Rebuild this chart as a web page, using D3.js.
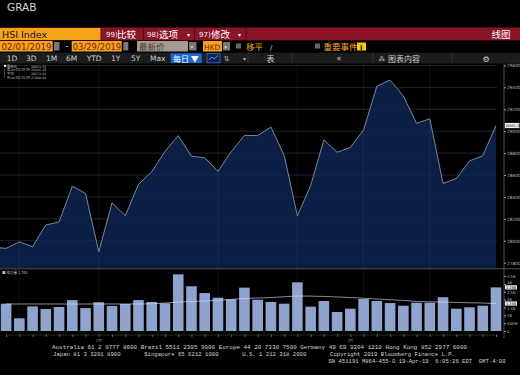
<!DOCTYPE html>
<html>
<head>
<meta charset="utf-8">
<script src="https://cdn.jsdelivr.net/npm/d3@7"></script>
<style>
body { margin: 0; background: #000; overflow: hidden; }
svg { display: block; }
text { font-family: "DejaVu Sans", "Liberation Sans", sans-serif; }
.cjk { font-family: "Noto Sans CJK SC", sans-serif; }
.mono { font-family: "Liberation Mono", "DejaVu Sans Mono", monospace; }
</style>
</head>
<body>
<script>
window.onload = function() {
  drawPage();
}

// HSI daily closes, 02/01/2019 - 03/29/2019
var dates = ["02/01","02/04","02/08","02/11","02/12","02/13","02/14","02/15",
  "02/18","02/19","02/20","02/21","02/22","02/25","02/26","02/27","02/28",
  "03/01","03/04","03/05","03/06","03/07","03/08","03/11","03/12","03/13",
  "03/14","03/15","03/18","03/19","03/20","03/21","03/22","03/25","03/26",
  "03/27","03/28","03/29"];
var closes = [27930.74,27990.21,27946.32,28143.84,28171.33,28497.59,28432.05,27900.84,
  28347.01,28228.13,28514.05,28629.92,28816.30,28959.30,28772.06,28757.43,28633.18,
  28812.17,28961.60,28959.59,29037.55,28779.45,28228.42,28503.30,28920.87,28807.45,
  28851.39,29012.26,29409.01,29466.28,29320.97,29071.56,29113.36,28523.35,28566.91,
  28728.25,28775.21,29051.36];
var priorClose = 27942.47;

// volume in billions of shares, and its moving average
var volumes = [1.74,0.81,1.57,1.40,1.53,1.97,1.46,1.83,1.59,1.72,1.97,1.85,1.76,3.61,
  2.85,2.42,2.12,2.02,2.76,1.99,1.85,1.74,3.10,1.55,1.91,1.21,1.42,2.04,1.91,1.78,
  1.61,1.80,1.80,2.15,1.42,1.51,1.61,2.78];
var volumeAvg = [1.72,1.72,1.72,1.72,1.72,1.72,1.72,1.72,1.72,1.72,1.72,1.73,1.78,1.85,
  1.88,1.91,1.96,2.01,2.07,2.10,2.13,2.18,2.23,2.22,2.20,2.17,2.13,2.09,2.04,1.99,
  1.95,1.88,1.86,1.84,1.82,1.80,1.78,1.75];

var priceTicks = [27800,28000,28200,28400,28600,28800,29000,29200,29400,29600];
var volumeTicks = [0,0.5,1,1.5,2,2.5,3,3.5];
var volumeTickLabels = ["0","500M","1B","1.5B","2B","2.5B","3B","3.5B"];
var gridDays = ["02/04","02/15","02/28","03/08","03/15","03/22"];
var monthLabels = [["02/15","2月"],["03/14","3月"]];

var rangeButtons = ["1D","3D","1M","6M","YTD","1Y","5Y","Max"];

var footerLines = [
  "Australia 61 2 9777 8600 Brazil 5511 2395 9000 Europe 44 20 7330 7500 Germany 49 69 9204 1210 Hong Kong 852 2977 6000",
  "Japan 81 3 3201 8900       Singapore 65 6212 1000       U.S. 1 212 318 2000       Copyright 2019 Bloomberg Finance L.P.",
  "SN 451191 M864-455-0 19-Apr-19  6:05:26 EDT  GMT-4:00"
];

var width = 520,
  height = 375;

var plotRight = 497,
  priceTop = 64,
  priceBottom = 268,
  volBottom = 331;

var x = d3.scaleLinear()
          .domain([0, dates.length - 1])
          .range([6.1, 496]);

var y = d3.scaleLinear()
          .domain([27800, 29600])
          .range([262.7, 65.4]);

var yv = d3.scaleLinear()
          .domain([0, 4])
          .range([volBottom, 268.2]);

function dayX(day) {
  return x(dates.indexOf(day));
}

function drawToolbar(svg) {
  svg.append("text")
     .attr("x", 7).attr("y", 11)
     .attr("font-family", "Liberation Sans, sans-serif")
     .attr("font-size", 10.5)
     .attr("fill", "#d8d8d8")
     .text("GRAB");

  // row 1: red command bar
  svg.append("rect").attr("x", 0).attr("y", 27.5).attr("width", width).attr("height", 12.8)
     .attr("fill", "#8b1426");
  svg.append("rect").attr("x", 0).attr("y", 28).attr("width", 101).attr("height", 12)
     .attr("fill", "#f6a31c");
  svg.append("text").attr("x", 2).attr("y", 37.6).attr("font-size", 9.5).attr("fill", "#111")
     .text("HSI Index");
  [101, 143.5, 194.5, 246].forEach(function(s) {
    svg.append("line").attr("x1", s).attr("x2", s).attr("y1", 27.5).attr("y2", 40.3)
       .style("stroke", "#5c0812").style("stroke-width", 1);
  });
  var cmds = [[106, "99)", 117, "比较", null], [147, "98)", 159, "选项", 187], [199, "97)", 211, "修改", 238]];
  cmds.forEach(function(c) {
    svg.append("text").attr("x", c[0]).attr("y", 37.4).attr("font-size", 7).attr("fill", "#eee").text(c[1]);
    svg.append("text").attr("class", "cjk").attr("x", c[2]).attr("y", 37.8).attr("font-size", 9.5)
       .attr("fill", "#fff").text(c[3]);
    if (c[4]) {
      svg.append("text").attr("x", c[4]).attr("y", 37).attr("font-size", 6).attr("fill", "#eee").text("▾");
    }
  });
  svg.append("text").attr("class", "cjk").attr("x", 491.5).attr("y", 37.8).attr("font-size", 9.5)
     .attr("fill", "#fff").text("线图");

  // row 2: dates and options
  var boxes = [[0, 52.7, "#f6a31c"], [71.7, 50, "#f6a31c"], [137, 51, "#a49a90"], [203, 19, "#f6a31c"]];
  boxes.forEach(function(b) {
    svg.append("rect").attr("x", b[0]).attr("y", 41).attr("width", b[1]).attr("height", 10.5).attr("fill", b[2]);
  });
  [[54, 5.5], [123.3, 5], [189, 7.5], [223, 7]].forEach(function(b) {
    svg.append("rect").attr("x", b[0]).attr("y", 42).attr("width", b[1]).attr("height", 8.5).attr("fill", "#777");
  });
  svg.append("text").attr("x", 1.5).attr("y", 49.8).attr("font-size", 9).attr("fill", "#7a1d08")
     .attr("textLength", 50).attr("lengthAdjust", "spacingAndGlyphs").text("02/01/2019");
  svg.append("text").attr("x", 65.5).attr("y", 49).attr("font-size", 8).attr("fill", "#ddd").text("-");
  svg.append("text").attr("x", 72.7).attr("y", 49.8).attr("font-size", 9).attr("fill", "#7a1d08")
     .attr("textLength", 48.5).attr("lengthAdjust", "spacingAndGlyphs").text("03/29/2019");
  svg.append("text").attr("class", "cjk").attr("x", 139).attr("y", 49.8).attr("font-size", 8.5)
     .attr("fill", "#4a3a2c").text("最新价");
  svg.append("text").attr("x", 204).attr("y", 49.6).attr("font-size", 7.5).attr("fill", "#7a1d08").text("HKD");
  svg.append("text").attr("x", 190.5).attr("y", 48.8).attr("font-size", 5.5).attr("fill", "#ddd").text("▾");
  svg.append("text").attr("x", 224.3).attr("y", 48.8).attr("font-size", 5.5).attr("fill", "#ddd").text("▾");
  svg.append("rect").attr("x", 236).attr("y", 43.5).attr("width", 5).attr("height", 5).attr("fill", "#666");
  svg.append("text").attr("class", "cjk").attr("x", 246).attr("y", 49.8).attr("font-size", 8.5)
     .attr("fill", "#f6a31c").text("移平");
  svg.append("text").attr("x", 270).attr("y", 49.5).attr("font-size", 7).attr("fill", "#ccc").text("/");
  svg.append("rect").attr("x", 315).attr("y", 43.5).attr("width", 5).attr("height", 5).attr("fill", "#666");
  svg.append("text").attr("class", "cjk").attr("x", 323.5).attr("y", 49.8).attr("font-size", 8.5)
     .attr("fill", "#f6a31c").text("重要事件");
  svg.append("rect").attr("x", 357).attr("y", 42.5).attr("width", 9).attr("height", 8).attr("fill", "#f0d000");
  svg.append("text").attr("x", 360).attr("y", 49.5).attr("font-size", 7).attr("font-weight", "bold")
     .attr("fill", "#000").text("i");

  // row 3: range buttons
  svg.append("rect").attr("x", 0).attr("y", 52.7).attr("width", width).attr("height", 10.8).attr("fill", "#1c1c1c");
  var bx = [6.7, 26, 46, 66, 86.7, 111, 131, 150];
  rangeButtons.forEach(function(b, i) {
    svg.append("text").attr("x", bx[i]).attr("y", 61.3).attr("font-size", 7.5).attr("fill", "#cfcfcf").text(b);
  });
  svg.append("rect").attr("x", 170.7).attr("y", 53.3).attr("width", 31).attr("height", 9.7).attr("fill", "#1d69d2");
  svg.append("text").attr("class", "cjk").attr("x", 173).attr("y", 61.5).attr("font-size", 8)
     .attr("fill", "#fff").text("每日 ▼");
  svg.append("rect").attr("x", 207).attr("y", 53.5).attr("width", 13).attr("height", 9.3)
     .attr("fill", "#0f2550").style("stroke", "#2f6fd0").style("stroke-width", 0.8);
  svg.append("path").attr("d", "M209,60 L212,57 L214,59 L218,55.5").attr("fill", "none")
     .style("stroke", "#5a9cff").style("stroke-width", 0.9);
  svg.append("text").attr("x", 223.5).attr("y", 61).attr("font-size", 7).attr("fill", "#aaa").text("⇅");
  svg.append("text").attr("x", 243).attr("y", 60.5).attr("font-size", 6).attr("fill", "#aaa").text("▾");
  svg.append("text").attr("class", "cjk").attr("x", 266.5).attr("y", 61.5).attr("font-size", 8)
     .attr("fill", "#ccc").text("表");
  svg.append("text").attr("x", 336.5).attr("y", 61.3).attr("font-size", 8).attr("fill", "#ccc").text("«");
  svg.append("text").attr("x", 378.5).attr("y", 61).attr("font-size", 6.5).attr("fill", "#ccc").text("⁂");
  svg.append("text").attr("class", "cjk").attr("x", 388).attr("y", 61.5).attr("font-size", 8)
     .attr("fill", "#ccc").text("图表内容");
  svg.append("text").attr("x", 482.5).attr("y", 61.5).attr("font-size", 8).attr("fill", "#ccc").text("⚙");
  [248, 292, 373, 452].forEach(function(s) {
    svg.append("line").attr("x1", s).attr("x2", s).attr("y1", 53).attr("y2", 63.3)
       .style("stroke", "#333").style("stroke-width", 1);
  });
}

function drawPrice(svg) {
  svg.append("clipPath").attr("id", "plotClip")
     .append("rect").attr("x", 0).attr("y", priceTop).attr("width", plotRight).attr("height", priceBottom - priceTop);

  // horizontal grid
  svg.selectAll("line.hgrid")
     .data(priceTicks)
     .enter()
     .append("line")
     .attr("class", "hgrid")
     .attr("x1", 0).attr("x2", plotRight)
     .attr("y1", function(d) { return y(d); })
     .attr("y2", function(d) { return y(d); })
     .style("stroke", "#2a3446").style("stroke-width", 0.6);

  var points = [{i: -1, v: priorClose}].concat(closes.map(function(v, i) { return {i: i, v: v}; }));

  var area = d3.area()
               .x(function(d) { return x(d.i); })
               .y0(priceBottom)
               .y1(function(d) { return y(d.v); });

  var line = d3.line()
               .x(function(d) { return x(d.i); })
               .y(function(d) { return y(d.v); });

  svg.append("path")
     .datum(points)
     .attr("clip-path", "url(#plotClip)")
     .attr("d", area)
     .attr("fill", "#0c2149")
     .attr("fill-opacity", 0.93);

  // grid shows through the fill a little
  svg.selectAll("line.hgrid2")
     .data(priceTicks)
     .enter()
     .append("line")
     .attr("x1", 0).attr("x2", plotRight)
     .attr("y1", function(d) { return y(d); })
     .attr("y2", function(d) { return y(d); })
     .style("stroke", "#ffffff").style("stroke-opacity", 0.05).style("stroke-width", 0.6);

  svg.selectAll("line.vgrid")
     .data(gridDays)
     .enter()
     .append("line")
     .attr("x1", function(d) { return dayX(d); })
     .attr("x2", function(d) { return dayX(d); })
     .attr("y1", priceTop).attr("y2", 334)
     .style("stroke", "#ffffff").style("stroke-opacity", 0.1).style("stroke-width", 0.6);

  svg.append("path")
     .datum(points)
     .attr("clip-path", "url(#plotClip)")
     .attr("d", line)
     .attr("fill", "none")
     .style("stroke", "#8595ad")
     .style("stroke-width", 0.9);

  // right price axis
  var axis = d3.axisRight(y).tickValues(priceTicks).tickSize(2).tickFormat(d3.format("d"));
  var g = svg.append("g").attr("transform", "translate(504,0)").call(axis);
  g.select(".domain").remove();
  g.selectAll("line").style("stroke", "#aaa");
  g.selectAll("text").attr("x", 3).attr("font-size", 4.3).attr("fill", "#bbb");

  var last = closes[closes.length - 1];
  svg.append("rect").attr("x", 504.8).attr("y", y(last) - 2.6).attr("width", 14.6).attr("height", 5.2).attr("fill", "#eee");
  svg.append("text").attr("x", 505.2).attr("y", y(last) + 1.3)
     .attr("font-family", "Liberation Sans, sans-serif").attr("font-size", 3.4)
     .attr("fill", "#000").text(d3.format(".2f")(last));

  // legend
  var hi = d3.max(closes), lo = d3.min(closes), avg = d3.mean(closes);
  var legend = [["最新价", last], ["高 on 03/19/19", hi], ["平均", avg], ["低 on 02/15/19", lo]];
  svg.append("rect").attr("x", 4).attr("y", 64.8).attr("width", 2.2).attr("height", 2.2).attr("fill", "#fff");
  svg.append("line").attr("x1", 4.5).attr("x2", 4.5).attr("y1", 68).attr("y2", 78)
     .style("stroke", "#888").style("stroke-width", 0.5);
  legend.forEach(function(l, i) {
    svg.append("text").attr("class", "cjk").attr("x", 7).attr("y", 67.5 + i * 3.8)
       .attr("font-size", 3.4).attr("fill", "#bbb").text(l[0]);
    svg.append("text").attr("x", 31).attr("y", 67.5 + i * 3.8)
       .attr("font-size", 3.2).attr("fill", "#bbb").text(d3.format(".2f")(l[1]));
  });
}

function drawVolume(svg) {
  svg.append("line").attr("x1", 0).attr("x2", width).attr("y1", 268.8).attr("y2", 268.8)
     .style("stroke", "#666").style("stroke-width", 0.8);

  svg.selectAll("rect.vol")
     .data(volumes)
     .enter()
     .append("rect")
     .attr("class", "vol")
     .attr("x", function(d, i) { return x(i) - 5.3; })
     .attr("y", function(d) { return yv(d); })
     .attr("width", 10.6)
     .attr("height", function(d) { return volBottom - yv(d); })
     .attr("fill", "#8ea3cd");

  var avgLine = d3.line()
                  .x(function(d, i) { return x(i); })
                  .y(function(d) { return yv(d); });

  svg.append("path")
     .datum(volumeAvg)
     .attr("d", avgLine)
     .attr("fill", "none")
     .style("stroke", "#e8e8e8")
     .style("stroke-width", 0.6);

  svg.append("text").attr("class", "cjk").attr("x", 2).attr("y", 274.3).attr("font-size", 3.6)
     .attr("fill", "#bbb").text("■ 成交量 2.78B");

  var tags = [volumes[volumes.length - 1], volumeAvg[volumeAvg.length - 1]];

  // nudge tick labels that sit under a value tag
  var axis = d3.axisRight(yv).tickValues(volumeTicks).tickSize(2)
               .tickFormat(function(d, i) { return volumeTickLabels[i]; });
  var g = svg.append("g").attr("transform", "translate(504,0)").call(axis);
  g.select(".domain").remove();
  g.selectAll("line").style("stroke", "#aaa");
  g.selectAll("text").attr("x", 3).attr("font-size", 3.8).attr("fill", "#bbb")
   .attr("dy", function(d) {
     var shift = 0;
     tags.forEach(function(t) {
       var gap = yv(d) - yv(t);
       if (Math.abs(gap) < 4.6) shift = gap > 0 ? 4.6 - gap : -(4.6 + gap);
     });
     return (0.32 + shift / 3.8) + "em";
   });

  tags.forEach(function(t) {
    svg.append("rect").attr("x", 505).attr("y", yv(t) - 2.1).attr("width", 12).attr("height", 4.2).attr("fill", "#e8e8e8");
    svg.append("text").attr("x", 506).attr("y", yv(t) + 1.3).attr("font-size", 3.6).attr("fill", "#000")
       .attr("textLength", 10).attr("lengthAdjust", "spacingAndGlyphs")
       .text(d3.format(".2f")(t) + "B");
  });

  // axis lines
  svg.append("line").attr("x1", 504).attr("x2", 504).attr("y1", priceTop).attr("y2", 338)
     .style("stroke", "#777").style("stroke-width", 0.7);

  var bottom = d3.axisBottom(x).tickValues(d3.range(dates.length)).tickSize(2.5).tickFormat("");
  var b = svg.append("g").attr("transform", "translate(0,334.5)").call(bottom);
  b.select(".domain").style("stroke", "#555").style("stroke-width", 0.5);
  b.selectAll("line").style("stroke", "#999").style("stroke-width", 0.6);

  svg.selectAll("text.month")
     .data(monthLabels)
     .enter()
     .append("text")
     .attr("class", "cjk")
     .attr("x", function(d) { return dayX(d[0]); })
     .attr("y", 342)
     .attr("text-anchor", "middle")
     .attr("font-size", 3.6)
     .attr("fill", "#999")
     .text(function(d) { return d[1]; });
}

function drawFooter(svg) {
  var pos = [[52, 348.6, 415], [53, 356.2, 402], [328.5, 362.8, 177]];
  footerLines.forEach(function(t, i) {
    svg.append("text")
       .attr("class", "mono")
       .attr("x", pos[i][0]).attr("y", pos[i][1])
       .attr("font-size", 5.6)
       .attr("fill", "#d6d6d6")
       .attr("textLength", pos[i][2])
       .attr("lengthAdjust", "spacingAndGlyphs")
       .style("white-space", "pre")
       .text(t);
  });
}

function drawPage() {
  var svg = d3.select("body").append("svg")
              .attr("width", width)
              .attr("height", height)
              .style("background", "#000");

  drawToolbar(svg);
  drawPrice(svg);
  drawVolume(svg);
  drawFooter(svg);
}
</script>
</body>
</html>
